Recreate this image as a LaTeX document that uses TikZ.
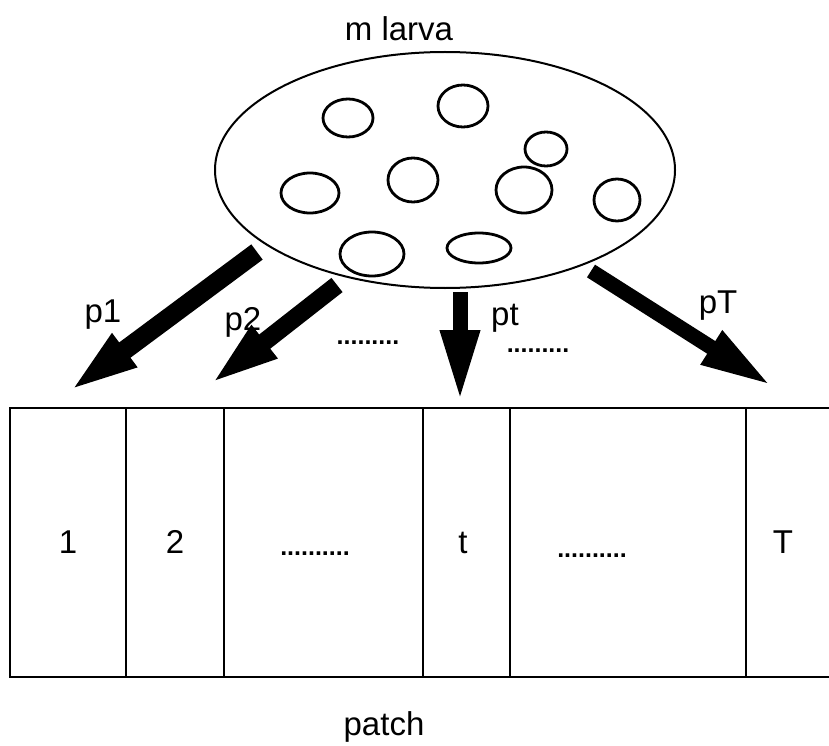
\documentclass[tikz,border=0pt]{standalone}
\usepackage{fontspec}
\setmainfont{Liberation Sans}
\usetikzlibrary{shapes.geometric,arrows.meta}
\begin{document}
\begin{tikzpicture}[x=1pt,y=-1pt,
  lbl/.style={anchor=base,inner sep=0pt,font=\fontsize{33}{38}\selectfont},
  dotrow/.style={anchor=base,inner sep=0pt,font=\fontsize{25}{30}\selectfont\bfseries},
  larvaegg/.style={line width=2.8pt},
  fatarrow/.style={line width=#1, -{Triangle[length=72pt,width=36pt]}},
  cellline/.style={line width=2.4pt}]
\useasboundingbox (0,0) rectangle (829,746);

% population of larvae
\node[ellipse,draw,line width=2pt,minimum width=460pt,minimum height=236pt,inner sep=0pt] (larva) at (445,170) {};
\node[lbl] (mlarva) at (399,41) {m larva};
\draw[larvaegg] (348,118) ellipse [x radius=25, y radius=19];
\draw[larvaegg] (463,106) ellipse [x radius=25, y radius=21];
\draw[larvaegg] (546,149) ellipse [x radius=21, y radius=17];
\draw[larvaegg] (310,193) ellipse [x radius=29, y radius=20];
\draw[larvaegg] (413,180) ellipse [x radius=25, y radius=22];
\draw[larvaegg] (524,190) ellipse [x radius=28, y radius=23];
\draw[larvaegg] (617,200) ellipse [x radius=23, y radius=21];
\draw[larvaegg] (372,254) ellipse [x radius=32, y radius=22];
\draw[larvaegg] (479,248) ellipse [x radius=32, y radius=15];

% patch of cells
\coordinate (tl) at (10,408);
\coordinate (bl) at (10,677);
\coordinate (tr) at (829,408);
\coordinate (br) at (829,677);
\draw[cellline] (tr) -- (tl) -- (bl) -- (br);
\foreach \xx in {126,224,423,510,746}
  \draw[cellline] (\xx,408) -- (\xx,677);

\node[lbl] (c1) at (68,553) {1};
\node[lbl] (c2) at (175,553) {2};
\node[dotrow] (cdots1) at (315,555) {..........};
\node[lbl] (ct) at (463,553) {t};
\node[dotrow] (cdots2) at (592,557) {..........};
\node[lbl] (cT) at (783,553) {T};
\node[lbl] (patch) at (384,735) {patch};

% dispersal arrows
\coordinate (tail1) at (257,252);
\coordinate (tip1) at (67,393);
\coordinate (tail2) at (337,285);
\coordinate (tip2) at (208,386);
\coordinate (tailt) at (460,292);
\coordinate (tipt) at (460,402);
\coordinate (tailT) at (591,271);
\coordinate (tipT) at (772,386);
\draw[fatarrow=19pt] (tail1) -- (tip1);
\draw[fatarrow=18pt] (tail2) -- (tip2);
\draw[fatarrow=15pt] (tailt) -- (tipt);
\draw[fatarrow=15pt] (tailT) -- (tipT);

\node[lbl] (p1) at (103,322) {p1};
\node[lbl] (p2) at (243,330) {p2};
\node[dotrow] (adots1) at (368,344) {.........};
\node[lbl] (pt) at (505,325) {pt};
\node[dotrow] (adots2) at (538,352) {.........};
\node[lbl] (pT) at (718,313) {pT};
\end{tikzpicture}
\end{document}
